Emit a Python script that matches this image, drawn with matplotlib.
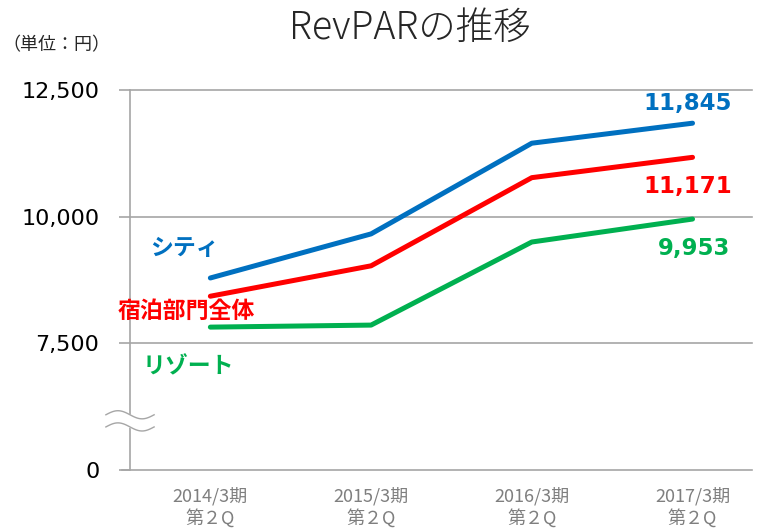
import numpy as np
import matplotlib
matplotlib.use("Agg")
import matplotlib.pyplot as plt

plt.rcParams["font.family"] = ["DejaVu Sans", "Noto Sans CJK JP"]

periods = ["2014/3期\n第２Q", "2015/3期\n第２Q", "2016/3期\n第２Q", "2017/3期\n第２Q"]
city = [8790, 9660, 11450, 11845]
total = [8430, 9030, 10770, 11171]
resort = [7820, 7860, 9500, 9953]

# 軸は 5,000 以下を省略（0 を 5,000 の位置に表示）
y_ticks = [5000, 7500, 10000, 12500]
y_labels = ["0", "7,500", "10,000", "12,500"]

BLUE = "#0070C0"
RED = "#FF0000"
GREEN = "#00B050"
GRID = "#A6A6A6"
JP = ["Noto Sans CJK JP"]

fig = plt.figure(figsize=(7.67, 5.29), dpi=100)
ax = fig.add_axes([130 / 767, 1 - 470 / 529, 622 / 767, 380 / 529])

x = np.arange(len(periods))
for vals, col in [(resort, GREEN), (total, RED), (city, BLUE)]:
    ax.plot(x, vals, color=col, lw=3.6, solid_capstyle="round", zorder=3)

ax.set_xlim(-0.5, 3.37)
ax.set_ylim(5000, 12500)
ax.set_yticks(y_ticks)
ax.set_yticklabels(y_labels, fontsize=16)
ax.set_xticks(x)
ax.set_xticklabels(periods, fontsize=13, color="#7F7F7F", family=JP, linespacing=1.25)
for t in y_ticks[1:]:
    ax.axhline(t, color=GRID, lw=1.2, zorder=1, clip_on=False)
ax.tick_params(axis="y", length=8, color=GRID, width=1.2, pad=14)
ax.tick_params(axis="x", length=0, pad=12)
for s in ["top", "right"]:
    ax.spines[s].set_visible(False)
for s in ["left", "bottom"]:
    ax.spines[s].set_color(GRID)
    ax.spines[s].set_linewidth(1.2)
ax.spines["bottom"].set_bounds(-0.55, 3.37)

# 系列名
ax.text(-0.16, 9365, "シティ", color=BLUE, fontsize=16.5, fontweight="bold",
        ha="center", va="center", family=JP)
ax.text(-0.15, 8135, "宿泊部門全体", color=RED, fontsize=16.5, fontweight="bold",
        ha="center", va="center", family=JP)
ax.text(-0.14, 7044, "リゾート", color=GREEN, fontsize=16.5, fontweight="bold",
        ha="center", va="center", family=JP)

# 最終値ラベル
ax.text(2.97, 12242, f"{city[-1]:,}", color=BLUE, fontsize=16.5, fontweight="bold",
        ha="center", va="center")
ax.text(2.97, 10595, f"{total[-1]:,}", color=RED, fontsize=16.5, fontweight="bold",
        ha="center", va="center")
ax.text(3.01, 9365, f"{resort[-1]:,}", color=GREEN, fontsize=16.5, fontweight="bold",
        ha="center", va="center")

# 省略記号（波線）
tt = np.linspace(0, 1, 50)
bx = -0.65 + 0.30 * tt
wave = 80 * np.sin(2 * np.pi * tt)
y1 = 6090 + wave
y2 = 5850 + wave
ax.fill_between(bx, y2, y1, color="white", zorder=4, clip_on=False)
ax.plot(bx, y1, color=GRID, lw=1.0, zorder=5, clip_on=False)
ax.plot(bx, y2, color=GRID, lw=1.0, zorder=5, clip_on=False)

fig.text(410 / 767, 1 - 28 / 529, "RevPARの推移", fontsize=27, ha="center", va="center",
         family=JP, fontweight="light", color="#262626")
fig.text(2 / 767, 1 - 45 / 529, "（単位：円）", fontsize=13, ha="left", va="center",
         family=JP, color="#262626")

fig.savefig("out.png", dpi=100)
